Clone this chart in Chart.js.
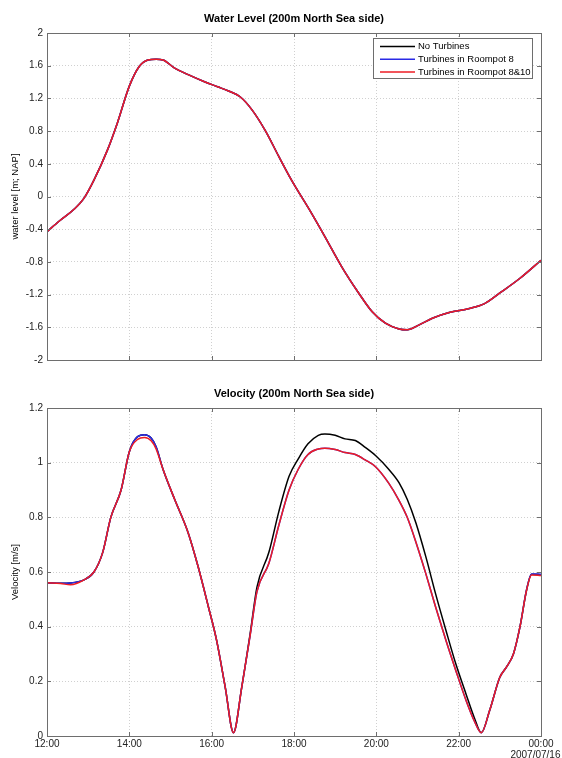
<!DOCTYPE html>
<html>
<head>
<meta charset="utf-8">
<script src="https://cdn.jsdelivr.net/npm/chart.js@4"></script>
<style>
  body { margin: 0; background: #fff; width: 562px; height: 758px; position: relative; overflow: hidden; }
  .panel { position: absolute; left: 0; width: 562px; }
  #levelBox { top: 0; height: 380px; }
  #velBox { top: 380px; height: 378px; }
</style>
</head>
<body>
<div class="panel" id="levelBox"><canvas id="levelChart" width="562" height="380"></canvas></div>
<div class="panel" id="velBox"><canvas id="velChart" width="562" height="378"></canvas></div>
<script>
// hours since 00:00 on 2007/07/15 (24 = 00:00 on the 16th)
const levelHours = [12.0, 12.3, 12.65, 12.9, 13.14, 13.47, 13.71, 14.0, 14.24, 14.45, 14.65, 14.82, 15.1, 15.43, 15.84, 16.16, 16.41, 16.69, 16.98, 17.31, 17.63, 17.94, 18.42, 18.75, 19.16, 19.57, 19.9, 20.22, 20.55, 20.75, 21.04, 21.36, 21.77, 22.26, 22.63, 23.0, 23.49, 24.0];
const levelNoTurbines = [-0.43, -0.30, -0.16, -0.02, 0.20, 0.57, 0.90, 1.35, 1.59, 1.67, 1.68, 1.67, 1.57, 1.49, 1.40, 1.34, 1.29, 1.22, 1.06, 0.80, 0.49, 0.20, -0.20, -0.49, -0.86, -1.18, -1.41, -1.55, -1.62, -1.63, -1.57, -1.49, -1.42, -1.37, -1.31, -1.18, -1.00, -0.78];
const levelRoompot8 = [-0.43, -0.30, -0.16, -0.02, 0.20, 0.57, 0.90, 1.35, 1.59, 1.67, 1.68, 1.67, 1.57, 1.49, 1.40, 1.34, 1.29, 1.22, 1.06, 0.80, 0.49, 0.20, -0.20, -0.49, -0.86, -1.18, -1.41, -1.55, -1.62, -1.63, -1.57, -1.49, -1.42, -1.37, -1.31, -1.18, -1.00, -0.78];
const levelRoompot810 = [-0.43, -0.30, -0.16, -0.02, 0.20, 0.57, 0.90, 1.35, 1.59, 1.67, 1.68, 1.67, 1.57, 1.49, 1.40, 1.34, 1.29, 1.22, 1.06, 0.80, 0.49, 0.20, -0.20, -0.49, -0.86, -1.18, -1.41, -1.55, -1.62, -1.63, -1.57, -1.49, -1.42, -1.37, -1.31, -1.18, -1.00, -0.78];

const velHours = [12.0, 12.33, 12.57, 12.9, 13.14, 13.35, 13.55, 13.8, 14.0, 14.2, 14.37, 14.53, 14.65, 14.82, 15.1, 15.43, 15.67, 15.92, 16.12, 16.33, 16.53, 16.73, 16.94, 17.1, 17.39, 17.63, 17.88, 18.1, 18.34, 18.59, 18.75, 19.0, 19.24, 19.49, 19.73, 19.98, 20.3, 20.55, 20.75, 20.96, 21.2, 21.44, 21.69, 21.93, 22.18, 22.38, 22.55, 22.75, 23.0, 23.16, 23.33, 23.49, 23.65, 23.77, 24.0];
const velNoTurbines = [0.561, 0.559, 0.56, 0.571, 0.60, 0.67, 0.80, 0.90, 1.04, 1.095, 1.102, 1.09, 1.058, 0.975, 0.866, 0.743, 0.62, 0.473, 0.35, 0.178, 0.012, 0.178, 0.38, 0.545, 0.672, 0.82, 0.95, 1.013, 1.069, 1.10, 1.105, 1.10, 1.087, 1.081, 1.056, 1.026, 0.976, 0.927, 0.866, 0.78, 0.657, 0.52, 0.387, 0.264, 0.153, 0.067, 0.012, 0.092, 0.215, 0.252, 0.30, 0.40, 0.534, 0.592, 0.59];
const velRoompot8 = [0.561, 0.559, 0.56, 0.571, 0.60, 0.67, 0.80, 0.90, 1.04, 1.095, 1.102, 1.09, 1.058, 0.975, 0.866, 0.743, 0.62, 0.473, 0.35, 0.178, 0.012, 0.178, 0.374, 0.528, 0.632, 0.77, 0.90, 0.975, 1.03, 1.05, 1.053, 1.048, 1.037, 1.03, 1.01, 0.985, 0.925, 0.862, 0.80, 0.71, 0.595, 0.472, 0.35, 0.24, 0.13, 0.055, 0.012, 0.092, 0.215, 0.252, 0.30, 0.40, 0.536, 0.593, 0.592];
const velRoompot810 = [0.561, 0.558, 0.553, 0.571, 0.60, 0.67, 0.80, 0.90, 1.04, 1.085, 1.092, 1.08, 1.05, 0.975, 0.866, 0.743, 0.62, 0.473, 0.35, 0.178, 0.012, 0.178, 0.374, 0.528, 0.632, 0.77, 0.90, 0.975, 1.03, 1.05, 1.053, 1.048, 1.037, 1.03, 1.01, 0.985, 0.925, 0.862, 0.80, 0.71, 0.595, 0.472, 0.35, 0.24, 0.13, 0.055, 0.012, 0.092, 0.215, 0.252, 0.30, 0.40, 0.534, 0.589, 0.587];

const hourTicks = [12, 14, 16, 18, 20, 22, 24];
const seriesLabels = ["No Turbines", "Turbines in Roompot 8", "Turbines in Roompot 8&10"];
const seriesColors = ["#000000", "#2a2ae6", "#ee1c24"];

Chart.defaults.font.family = "'Liberation Sans', Arial, sans-serif";
Chart.defaults.color = "#222";

function pts(xs, ys) {
  return xs.map((x, i) => ({ x: x, y: ys[i] }));
}

function makeSets(xs, list) {
  return list.map((ys, i) => ({
    label: seriesLabels[i],
    data: pts(xs, ys),
    borderColor: seriesColors[i],
    borderWidth: 1.5,
    pointRadius: 0,
    cubicInterpolationMode: "monotone",
    fill: false,
    order: list.length - i, // red last on top
  }));
}

function fmtNum(v) {
  return String(parseFloat(v.toFixed(2)));
}

function hourLabel(v) {
  const hh = String(v % 24).padStart(2, "0") + ":00";
  // trailing spaces nudge the date line left so it fits the edge
  return v === 24 ? [hh, "2007/07/16    "] : hh;
}

// frame, inward ticks, title and legend drawn around the chart area
const framePlugin = {
  id: "frame",
  afterDraw(chart, args, opts) {
    const c = chart.ctx;
    const a = chart.chartArea;
    const xs = chart.scales.x;
    const ys = chart.scales.y;
    c.save();
    c.strokeStyle = "#6e6e6e";
    c.lineWidth = 1;
    c.beginPath();
    xs.ticks.forEach((t) => {
      const px = Math.round(xs.getPixelForValue(t.value)) + 0.5;
      c.moveTo(px, a.bottom);
      c.lineTo(px, a.bottom - 4);
      c.moveTo(px, a.top);
      c.lineTo(px, a.top + 4);
    });
    ys.ticks.forEach((t) => {
      const py = Math.round(ys.getPixelForValue(t.value)) + 0.5;
      c.moveTo(a.left, py);
      c.lineTo(a.left + 4, py);
      c.moveTo(a.right, py);
      c.lineTo(a.right - 4, py);
    });
    c.stroke();
    c.strokeRect(Math.round(a.left) + 0.5, Math.round(a.top) + 0.5, Math.round(a.right - a.left), Math.round(a.bottom - a.top));

    c.fillStyle = "#000";
    c.font = "bold 11px 'Liberation Sans', Arial, sans-serif";
    c.textAlign = "center";
    c.textBaseline = "middle";
    c.fillText(opts.title, (a.left + a.right) / 2, a.top - 14);

    if (opts.legend) {
      const lx = a.right - 168;
      const ly = a.top + 5;
      c.fillStyle = "#fff";
      c.fillRect(lx, ly, 159, 40);
      c.strokeStyle = "#6e6e6e";
      c.strokeRect(lx + 0.5, ly + 0.5, 159, 40);
      c.font = "9.5px 'Liberation Sans', Arial, sans-serif";
      c.textAlign = "left";
      chart.data.datasets.forEach((ds, i) => {
        const ry = ly + 8.5 + i * 12.8;
        c.strokeStyle = ds.borderColor;
        c.lineWidth = 1.5;
        c.beginPath();
        c.moveTo(lx + 7, ry);
        c.lineTo(lx + 42, ry);
        c.stroke();
        c.fillStyle = "#000";
        c.fillText(ds.label, lx + 45, ry);
      });
    }
    c.restore();
  },
};

function makeOptions(cfg) {
  return {
    responsive: false,
    animation: false,
    devicePixelRatio: 1,
    layout: { padding: { top: cfg.top, right: 21, left: 0, bottom: 0 } },
    plugins: {
      legend: { display: false },
      tooltip: { enabled: false },
      frame: { title: cfg.title, legend: cfg.legend },
    },
    scales: {
      x: {
        type: "linear",
        min: 12,
        max: 24,
        afterBuildTicks: (s) => { s.ticks = hourTicks.map((v) => ({ value: v })); },
        afterFit: (s) => {
          s.height = cfg.xHeight;
          s.paddingLeft = 0;
          s.paddingRight = 0;
        },
        grid: { color: "#d0d0d0", drawTicks: false },
        border: { display: false, dash: [1, 2] },
        ticks: {
          display: cfg.xLabels,
          padding: 3,
          font: { size: 10, lineHeight: 1.1 },
          maxRotation: 0,
          autoSkip: false,
          callback: hourLabel,
        },
      },
      y: {
        min: cfg.ymin,
        max: cfg.ymax,
        afterFit: (s) => {
          s.width = 47;
          s.paddingTop = 0;
          s.paddingBottom = 0;
        },
        grid: { color: "#d0d0d0", drawTicks: false },
        border: { display: false, dash: [1, 2] },
        ticks: { stepSize: cfg.step, padding: 4, font: { size: 10 }, callback: fmtNum },
        title: { display: true, text: cfg.ytitle, font: { size: 9.5 }, padding: { top: 10, bottom: 2 }, color: "#000" },
      },
    },
  };
}

new Chart(document.getElementById("levelChart"), {
  type: "line",
  data: { datasets: makeSets(levelHours, [levelNoTurbines, levelRoompot8, levelRoompot810]) },
  options: makeOptions({
    top: 33, xHeight: 20, xLabels: false, ymin: -2, ymax: 2, step: 0.4,
    ytitle: "water level [m; NAP]", title: "Water Level (200m North Sea side)", legend: true,
  }),
  plugins: [framePlugin],
});

new Chart(document.getElementById("velChart"), {
  type: "line",
  data: { datasets: makeSets(velHours, [velNoTurbines, velRoompot8, velRoompot810]) },
  options: makeOptions({
    top: 28, xHeight: 22, xLabels: true, ymin: 0, ymax: 1.2, step: 0.2,
    ytitle: "Velocity [m/s]", title: "Velocity (200m North Sea side)", legend: false,
  }),
  plugins: [framePlugin],
});
</script>
</body>
</html>
